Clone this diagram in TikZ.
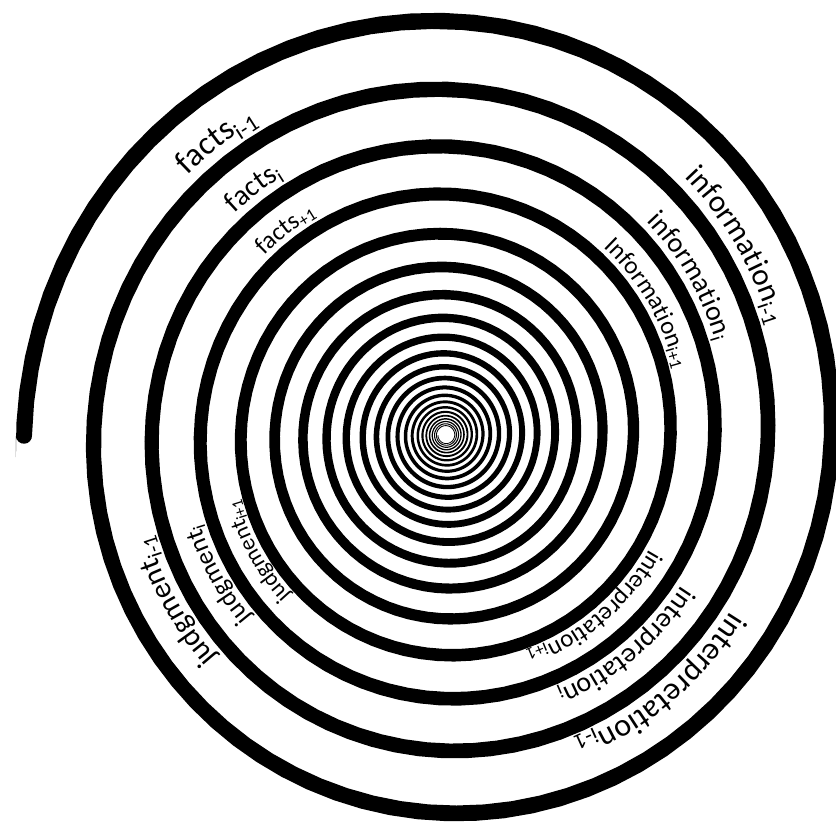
\documentclass[tikz,border=0pt]{standalone}
\usepackage{fontspec}
\setmainfont{Carlito}
\usetikzlibrary{decorations.text}

% text along the spiral, #1 = turn of the ring below, #2 = size
\newcommand{\spirallabel}[3]{%
  \path[label path, decoration={text={|\fontsize{#2}{#2}\selectfont|#3}}]
    plot[domain=#1-0.15:#1+0.15, samples=40, smooth, variable=\t]
    ({1.05*rs(\t)*cos(180-360*\t)}, {1.05*\ys*rs(\t)*sin(180-360*\t)});
}

\begin{document}
\begin{tikzpicture}[x=1pt, y=1pt,
    ring/.style={fill=black},
    label path/.style={decorate, decoration={text along path, text align=center}},
    declare function={rs(\t)=422*exp(-0.18032*\t); hw(\t)=9*(1-exp(-rs(\t)/190));},
  ]

  \def\ys{1.026}

  % Frame
  \fill[white] (-446,-390) rectangle (390,435);
  \useasboundingbox (-446,-390) rectangle (390,435);

  % Spiral, with a round cap at the outer end
  \fill[ring] plot[domain=-0.008:22, samples=1800, variable=\t]
      ({(rs(\t)+hw(\t))*cos(180-360*\t)}, {\ys*(rs(\t)+hw(\t))*sin(180-360*\t)})
    -- plot[domain=22:-0.008, samples=1800, variable=\t]
      ({(rs(\t)-hw(\t))*cos(180-360*\t)}, {\ys*(rs(\t)-hw(\t))*sin(180-360*\t)})
    arc[start angle=2.88, end angle=-177.12, radius={hw(-0.008)}]
    -- cycle;

  % Labels
  \spirallabel{1.146}{33}{facts{\textsubscript{i-1}}}
  \spirallabel{2.146}{29}{facts{\textsubscript{i}}}
  \spirallabel{3.146}{25}{facts{\textsubscript{+1}}}
  \spirallabel{1.411}{31}{information{\textsubscript{i-1}}}
  \spirallabel{2.411}{28}{information{\textsubscript{i}}}
  \spirallabel{3.411}{25}{Information{\textsubscript{i+1}}}
  \spirallabel{1.639}{32}{interpretation{\textsubscript{i-1}}}
  \spirallabel{2.639}{28}{interpretation{\textsubscript{i}}}
  \spirallabel{3.639}{25}{interpretation{\textsubscript{i+1}}}
  \spirallabel{1.915}{30}{judgment{\textsubscript{i-1}}}
  \spirallabel{2.915}{26}{judgment{\textsubscript{i}}}
  \spirallabel{3.915}{23}{judgment{\textsubscript{i+1}}}

\end{tikzpicture}
\end{document}
